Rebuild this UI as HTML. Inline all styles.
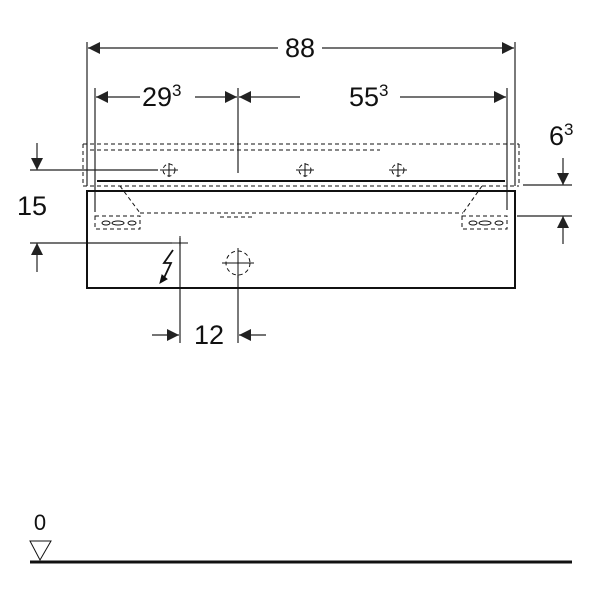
<!DOCTYPE html>
<html><head><style>body{margin:0;background:#fff}svg{display:block}text{font-family:"Liberation Sans",sans-serif;fill:#111}</style></head>
<body>
<svg width="600" height="600" viewBox="0 0 600 600" xmlns="http://www.w3.org/2000/svg">
<defs>
<marker id="a" viewBox="0 0 10 10" refX="10" refY="5" markerWidth="16" markerHeight="12" markerUnits="userSpaceOnUse" orient="auto"><path d="M0,0L10,5L0,10z" fill="#222"/></marker>
</defs>
<g stroke="#222" stroke-width="1.2" fill="none">
<line x1="87" y1="42" x2="87" y2="186"/>
<line x1="515" y1="42" x2="515" y2="186"/>
<line x1="95" y1="88" x2="95" y2="212"/>
<line x1="507" y1="88" x2="507" y2="210"/>
<line x1="238" y1="88" x2="238" y2="173"/>
<line x1="278" y1="48" x2="88" y2="48" marker-end="url(#a)"/>
<line x1="322" y1="48" x2="514" y2="48" marker-end="url(#a)"/>
<line x1="140" y1="97" x2="96" y2="97" marker-end="url(#a)"/>
<line x1="195" y1="97" x2="237" y2="97" marker-end="url(#a)"/>
<line x1="300" y1="97" x2="239" y2="97" marker-end="url(#a)"/>
<line x1="400" y1="97" x2="506" y2="97" marker-end="url(#a)"/>
<line x1="37" y1="143" x2="37" y2="170" marker-end="url(#a)"/>
<line x1="30" y1="170" x2="158" y2="170"/>
<line x1="37" y1="272" x2="37" y2="243" marker-end="url(#a)"/>
<line x1="30" y1="243" x2="172" y2="243"/>
<line x1="563" y1="158" x2="563" y2="185" marker-end="url(#a)"/>
<line x1="523" y1="185" x2="572" y2="185"/>
<line x1="563" y1="244" x2="563" y2="216" marker-end="url(#a)"/>
<line x1="517" y1="216" x2="572" y2="216"/>
<line x1="180" y1="238" x2="180" y2="343"/>
<line x1="238" y1="275" x2="238" y2="343"/>
<line x1="152" y1="335" x2="179" y2="335" marker-end="url(#a)"/>
<line x1="266" y1="335" x2="239" y2="335" marker-end="url(#a)"/>
</g>
<g stroke="#111" fill="none">
<path d="M87,191H515V288H87Z" stroke-width="2"/>
<line x1="97" y1="181" x2="505" y2="181" stroke-width="2"/>
<g stroke-dasharray="4,3" stroke-width="1">
<line x1="83" y1="144" x2="519" y2="144"/>
<line x1="90" y1="150" x2="380" y2="150"/>
<line x1="83" y1="144" x2="83" y2="186"/>
<line x1="519" y1="144" x2="519" y2="186"/>
<line x1="83" y1="186" x2="519" y2="186"/>
<line x1="140" y1="213" x2="463" y2="213"/>
<line x1="120" y1="186" x2="140" y2="213"/>
<line x1="482" y1="186" x2="463" y2="213"/>
<line x1="220" y1="217" x2="255" y2="217"/>
<rect x="95" y="216" width="45" height="13"/>
<rect x="462" y="216" width="45" height="13"/>
<circle cx="238" cy="263" r="12"/>
<circle cx="169" cy="170" r="6"/>
<circle cx="305" cy="170" r="6"/>
<circle cx="398" cy="170" r="6"/>
</g>
<g stroke-width="1">
<ellipse cx="106" cy="223" rx="4" ry="2"/><ellipse cx="118" cy="223" rx="6" ry="2"/><ellipse cx="132" cy="223" rx="4" ry="2"/>
<ellipse cx="473" cy="223" rx="4" ry="2"/><ellipse cx="485" cy="223" rx="6" ry="2"/><ellipse cx="499" cy="223" rx="4" ry="2"/>
<path d="M160,170h18M169,163v14M296,170h18M305,163v14M389,170h18M398,163v14M172,243h16M180,236v10M222,263h32M238,248v30"/>
<path d="M173,250l-9,13h7l-7,15" stroke-width="1.8"/>
</g>
<path d="M160,283l2,-8l5,4z" fill="#111"/>
<line x1="30" y1="562" x2="572" y2="562" stroke-width="3"/>
<path d="M30,541H51L40,560Z" stroke-width="1"/>
</g>
<g font-size="27">
<text x="300" y="57" text-anchor="middle">88</text>
<text x="142" y="106">29<tspan font-size="17" dy="-10">3</tspan></text>
<text x="349" y="106">55<tspan font-size="17" dy="-10">3</tspan></text>
<text x="549" y="145">6<tspan font-size="17" dy="-10">3</tspan></text>
<text x="17" y="215">15</text>
<text x="209" y="344" text-anchor="middle">12</text>
<text x="40" y="530" text-anchor="middle" font-size="22">0</text>
</g>
</svg>
</body></html>
